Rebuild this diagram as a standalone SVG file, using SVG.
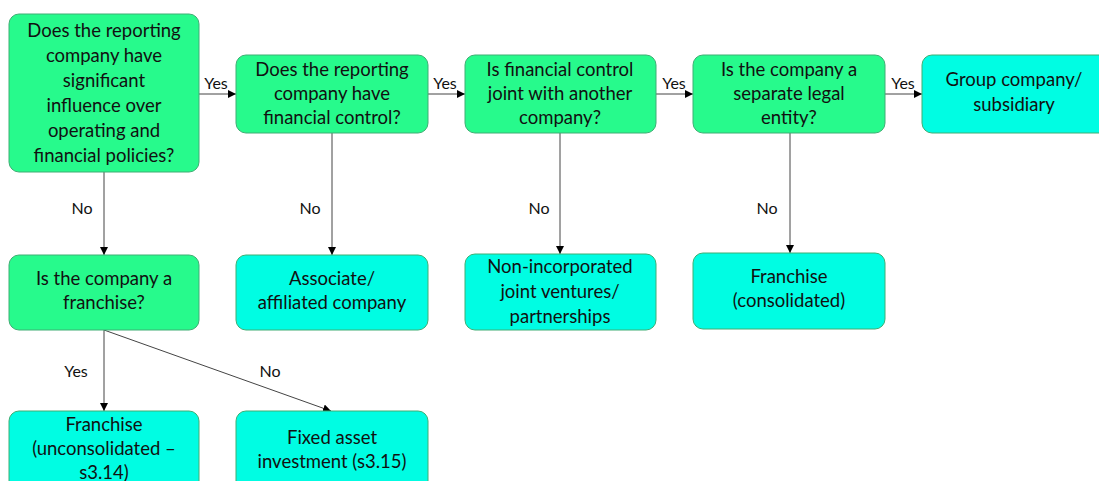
<svg xmlns="http://www.w3.org/2000/svg" width="1099" height="481" viewBox="0 0 1099 481">
<defs>
<marker id="ah" viewBox="0 0 10 10" refX="10" refY="5" markerWidth="8" markerHeight="8" markerUnits="userSpaceOnUse" orient="auto">
<path d="M0,0 L10,5 L0,10 z" fill="#000"/>
</marker>
<style>
.q{fill:#27fa8c;stroke:#3fae74;stroke-width:1}
.r{fill:#00fde3;stroke:#3fae74;stroke-width:1}
.t{font-family:Lato,"Open Sans",sans-serif;font-size:18.5px;fill:#111;text-anchor:middle}
.l{font-family:Lato,"Open Sans",sans-serif;font-size:16px;fill:#111;text-anchor:middle}
.c{stroke:#444;stroke-width:1;fill:none;marker-end:url(#ah)}
</style>
</defs>
<rect width="1099" height="481" fill="#fff"/>
<g id="connectors">
<line class="c" x1="199" y1="94" x2="236" y2="94"/>
<line class="c" x1="428" y1="94" x2="465" y2="94"/>
<line class="c" x1="656" y1="94" x2="693" y2="94"/>
<line class="c" x1="885" y1="94" x2="922" y2="94"/>
<line class="c" x1="104" y1="172" x2="104" y2="255"/>
<line class="c" x1="332" y1="133" x2="332" y2="255"/>
<line class="c" x1="560" y1="133" x2="560" y2="254"/>
<line class="c" x1="790" y1="133" x2="790" y2="253"/>
<line class="c" x1="104" y1="330" x2="104" y2="411"/>
<line class="c" x1="104" y1="330" x2="331" y2="411"/>
<text class="l" x="216" y="89">Yes</text>
<text class="l" x="445" y="89">Yes</text>
<text class="l" x="674" y="89">Yes</text>
<text class="l" x="903" y="89">Yes</text>
<text class="l" x="82" y="214">No</text>
<text class="l" x="310" y="214">No</text>
<text class="l" x="539" y="214">No</text>
<text class="l" x="767" y="214">No</text>
<text class="l" x="76" y="377">Yes</text>
<text class="l" x="270" y="377">No</text>
</g>
<g id="n1"><rect class="q" x="9" y="14" width="190" height="158" rx="10"/>
<text class="t" x="104"><tspan x="104" y="37">Does the reporting</tspan><tspan x="104" y="62">company have</tspan><tspan x="104" y="87">significant</tspan><tspan x="104" y="112">influence over</tspan><tspan x="104" y="137">operating and</tspan><tspan x="104" y="162">financial policies?</tspan></text></g>
<g id="n2"><rect class="q" x="236" y="55" width="192" height="78" rx="10"/>
<text class="t"><tspan x="332" y="76">Does the reporting</tspan><tspan x="332" y="100">company have</tspan><tspan x="332" y="124">financial control?</tspan></text></g>
<g id="n3"><rect class="q" x="465" y="55" width="191" height="78" rx="10"/>
<text class="t"><tspan x="560" y="76">Is financial control</tspan><tspan x="560" y="100">joint with another</tspan><tspan x="560" y="124">company?</tspan></text></g>
<g id="n4"><rect class="q" x="693" y="55" width="192" height="78" rx="10"/>
<text class="t"><tspan x="789" y="76">Is the company a</tspan><tspan x="789" y="100">separate legal</tspan><tspan x="789" y="124">entity?</tspan></text></g>
<g id="n5"><rect class="r" x="922" y="55" width="192" height="78" rx="10"/>
<text class="t"><tspan x="1014" y="86">Group company/</tspan><tspan x="1014" y="111">subsidiary</tspan></text></g>
<g id="n6"><rect class="q" x="9" y="255" width="190" height="75" rx="10"/>
<text class="t"><tspan x="104" y="285">Is the company a</tspan><tspan x="104" y="309">franchise?</tspan></text></g>
<g id="n7"><rect class="r" x="236" y="255" width="192" height="75" rx="10"/>
<text class="t"><tspan x="332" y="285">Associate/</tspan><tspan x="332" y="309">affiliated company</tspan></text></g>
<g id="n8"><rect class="r" x="465" y="254" width="191" height="76" rx="10"/>
<text class="t"><tspan x="560" y="273">Non-incorporated</tspan><tspan x="560" y="298">joint ventures/</tspan><tspan x="560" y="323">partnerships</tspan></text></g>
<g id="n9"><rect class="r" x="693" y="253" width="192" height="76" rx="10"/>
<text class="t"><tspan x="789" y="283">Franchise</tspan><tspan x="789" y="307">(consolidated)</tspan></text></g>
<g id="n10"><rect class="r" x="9" y="411" width="190" height="80" rx="10"/>
<text class="t"><tspan x="104" y="431">Franchise</tspan><tspan x="104" y="455">(unconsolidated  –</tspan><tspan x="104" y="479">s3.14)</tspan></text></g>
<g id="n11"><rect class="r" x="236" y="411" width="192" height="80" rx="10"/>
<text class="t"><tspan x="332" y="444">Fixed asset</tspan><tspan x="332" y="468">investment (s3.15)</tspan></text></g>
</svg>
